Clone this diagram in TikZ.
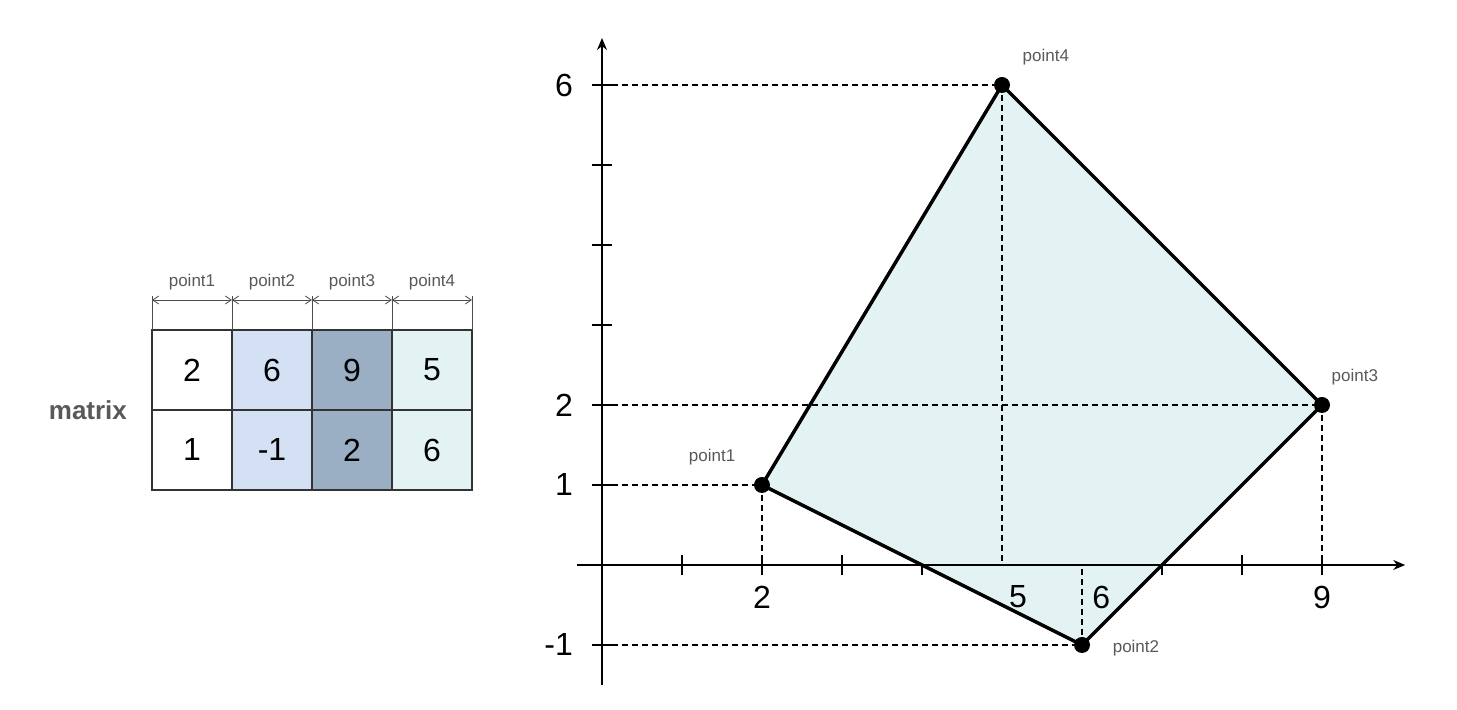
\documentclass[tikz,border=0pt]{standalone}
\usepackage{fontspec}
\setmainfont{Liberation Sans}
\usetikzlibrary{arrows.meta,positioning}
\definecolor{fond polygone}{HTML}{E3F2F3}
\definecolor{bleu clair}{HTML}{D4E1F5}
\definecolor{bleu gris}{HTML}{9AAEC4}
\definecolor{gris texte}{HTML}{595959}

\begin{document}
\begin{tikzpicture}[x=40pt,y=40pt,
   case/.style={draw=black!80,line width=1pt,minimum size=40pt,inner sep=0pt,outer sep=0pt,font=\fontsize{16}{18}\selectfont},
   sommet/.style={circle,fill=black,inner sep=0pt,minimum size=8pt},
   nom point/.style={text=gris texte,inner sep=0pt,font=\fontsize{8.5}{10}\selectfont},
   graduation/.style={inner sep=0pt,font=\fontsize{16}{18}\selectfont},
   pointille/.style={dash pattern=on 3pt off 2pt,line width=0.75pt},
   cote/.style={black!70,line width=0.4pt},
   axe/.style={line width=0.75pt,-{Stealth[length=6pt,width=5pt]}}]

  \useasboundingbox (-7.525,-1.8125) rectangle (10.6875,7.0625);

  % la matrice
  \node[case](a1) at (-5.125,2.4375) {2};
  \node[case,fill=bleu clair](b1) [right=0pt of a1] {6};
  \node[case,fill=bleu gris](c1) [right=0pt of b1] {9};
  \node[case,fill=fond polygone](d1) [right=0pt of c1] {5};
  \node[case](a2) [below=0pt of a1] {1};
  \node[case,fill=bleu clair](b2) [below=0pt of b1] {-1};
  \node[case,fill=bleu gris](c2) [below=0pt of c1] {2};
  \node[case,fill=fond polygone](d2) [below=0pt of d1] {6};
  \node[text=gris texte,font=\fontsize{13}{15}\selectfont\bfseries](matrice) [left=9pt of a1.south west] {matrix};

  \foreach \col/\nom in {a1/point1,b1/point2,c1/point3,d1/point4} {
    \draw[cote] (\col.north west) -- ++(0,0.425);
    \draw[cote,{Straight Barb[length=3pt,width=4pt]}-{Straight Barb[length=3pt,width=4pt]}]
      ([yshift=15pt]\col.north west) -- ([yshift=15pt]\col.north east)
      node[midway,above=5pt,nom point] {\nom};
  }
  \draw[cote] (d1.north east) -- ++(0,0.425);

  % les axes
  \coordinate (x debut) at (-0.3125,0);
  \coordinate (x fin) at (10.04,0);
  \coordinate (y debut) at (0,-1.5);
  \coordinate (y fin) at (0,6.5875);
  \foreach \i in {1,...,9} \draw[line width=0.6pt] (\i,-0.12) -- (\i,0.12);
  \foreach \j in {-1,1,2,...,6} \draw[line width=0.6pt] (-0.12,\j) -- (0.12,\j);

  % les sommets
  \coordinate (p1) at (2,1);
  \coordinate (p2) at (6,-1);
  \coordinate (p3) at (9,2);
  \coordinate (p4) at (5,6);
  \fill[fond polygone] (p1) -- (p2) -- (p3) -- (p4) -- cycle;

  \draw[axe] (x debut) -- (x fin);
  \draw[axe] (y debut) -- (y fin);

  \foreach \j in {-1,1,2,6} \node[graduation,anchor=east] at (-0.36,\j) {\j};
  \node[graduation] (g2) at (2,-0.4) {2};
  \node[graduation] (g5) at (5.2,-0.4) {5};
  \node[graduation] (g6) at (6.24,-0.4) {6};
  \node[graduation] (g9) at (9,-0.4) {9};

  % les projections
  \foreach \p/\x/\y in {p1/2/1,p2/6/-1,p3/9/2,p4/5/6} {
    \draw[pointille] (0,\y) -- (\p);
    \draw[pointille] (\p) -- (\x,0);
  }

  \draw[line width=1.75pt,line join=round] (p1) -- (p2) -- (p3) -- (p4) -- cycle;

  \node[sommet](s1) at (p1) {};
  \node[sommet](s2) at (p2) {};
  \node[sommet](s3) at (p3) {};
  \node[sommet](s4) at (p4) {};

  \node[nom point] [above left=6.8pt and 10.2pt of s1] {point1};
  \node[nom point] [right=11pt of s2,yshift=-1.5pt] {point2};
  \node[nom point] [above right=6.8pt and 1.7pt of s3] {point3};
  \node[nom point] [above right=6.8pt and 7.2pt of s4] {point4};
\end{tikzpicture}
\end{document}
